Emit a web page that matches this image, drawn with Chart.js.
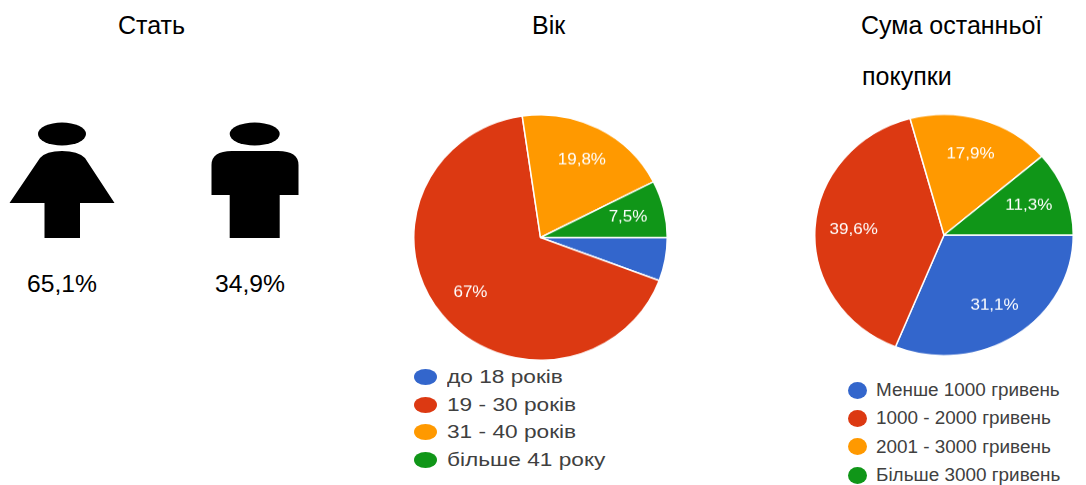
<!DOCTYPE html>
<html lang="uk">
<head>
<meta charset="utf-8">
<title>Портрет покупця</title>
<script src="https://cdn.jsdelivr.net/npm/chart.js@4"></script>
<style>
  html, body { margin: 0; padding: 0; background: #fff; }
  body { position: relative; width: 1086px; height: 485px; overflow: hidden; font-family: "Liberation Sans", Arial, sans-serif; color: #000; }
  .text { position: absolute; font-size: 25px; line-height: 28px; white-space: nowrap; }
  .pie { position: absolute; }
  .figures { position: absolute; left: 0; top: 0; }
  .legend-row { position: absolute; white-space: nowrap; color: #404040; transform-origin: left center; }
  .legend-dot { position: absolute; border-radius: 50%; }
</style>
</head>
<body>

<div class="text" style="left:118px;top:11px">Стать</div>
<div class="text" style="left:532px;top:11px">Вік</div>
<div class="text" style="left:861px;top:11px">Сума останньої</div>
<div class="text" style="left:862px;top:62px">покупки</div>

<svg class="figures" width="320" height="260">
  <ellipse cx="62" cy="134" rx="24" ry="11.5"/>
  <path d="M9.5 203 L40 158 Q46 151 62 151 Q78 151 85 158 L114.5 203 L80 203 L80 238 L44.5 238 L44.5 203 Z"/>
  <ellipse cx="254.7" cy="134" rx="25" ry="11.5"/>
  <path d="M211.5 195 L211.5 165 Q211.5 151 232 151 L278 151 Q298.5 151 298.5 165 L298.5 195 L279.7 195 L279.7 238 L229.7 238 L229.7 195 Z"/>
</svg>

<div class="text" id="gender-f" style="left:27px;top:270px;font-size:24.7px"></div>
<div class="text" id="gender-m" style="left:215px;top:270px;font-size:24.7px"></div>

<div class="pie" style="left:413px;top:110px;width:255px;height:255px;transform:scaleY(0.968)">
  <canvas id="age-chart"></canvas>
</div>
<div class="pie" style="left:814px;top:104.5px;width:260px;height:260px;transform:scaleY(0.934)">
  <canvas id="sum-chart"></canvas>
</div>

<div id="age-legend"></div>
<div id="sum-legend"></div>

<script>
'use strict';

const genderValues = [65.1, 34.9];

const ageLabels = ['до 18 років', '19 - 30 років', '31 - 40 років', 'більше 41 року'];
const ageValues = [5.7, 67, 19.8, 7.5];

const sumLabels = ['Менше 1000 гривень', '1000 - 2000 гривень', '2001 - 3000 гривень', 'Більше 3000 гривень'];
const sumValues = [31.1, 39.6, 17.9, 11.3];

const sliceColors = ['#3366cc', '#dc3912', '#ff9900', '#109618'];

const formatPercent = (value) => String(value).replace('.', ',') + '%';

document.querySelector('#gender-f').textContent = formatPercent(genderValues[0]);
document.querySelector('#gender-m').textContent = formatPercent(genderValues[1]);

// Percent text inside a slice, thin slices stay unlabelled
const sliceLabels = {
  id: 'sliceLabels',
  afterDatasetsDraw(chart, args, options) {
    const ctx = chart.ctx;
    const values = chart.data.datasets[0].data;
    ctx.save();
    ctx.fillStyle = '#fff';
    ctx.font = '17px "Liberation Sans", Arial, sans-serif';
    ctx.textAlign = 'center';
    ctx.textBaseline = 'middle';
    chart.getDatasetMeta(0).data.forEach((arc, i) => {
      if (values[i] < 6) return;
      const mid = (arc.startAngle + arc.endAngle) / 2;
      const r = arc.outerRadius * options.radial;
      ctx.fillText(formatPercent(values[i]), arc.x + Math.cos(mid) * r, arc.y + Math.sin(mid) * r);
    });
    ctx.restore();
  }
};

const drawPie = (selector, labels, values, radial) => new Chart(document.querySelector(selector), {
  type: 'pie',
  data: {
    labels: labels,
    datasets: [{
      data: values,
      backgroundColor: sliceColors,
      borderColor: '#fff',
      borderWidth: 1.5
    }]
  },
  options: {
    responsive: true,
    maintainAspectRatio: false,
    animation: false,
    rotation: 90,
    plugins: {
      legend: { display: false },
      tooltip: { enabled: false },
      sliceLabels: { radial: radial }
    }
  },
  plugins: [sliceLabels]
});

drawPie('#age-chart', ageLabels, ageValues, 0.71);
drawPie('#sum-chart', sumLabels, sumValues, 0.7);

// Legends sit under the pies, one row per slice
const drawLegend = (selector, labels, opts) => {
  const box = document.querySelector(selector);
  labels.forEach((label, i) => {
    const y = opts.top + opts.step * i;
    const dot = document.createElement('div');
    dot.className = 'legend-dot';
    dot.style.cssText = `left:${opts.dotX}px;top:${y - opts.dotH / 2}px;width:${opts.dotW}px;height:${opts.dotH}px;background:${sliceColors[i]}`;
    const row = document.createElement('div');
    row.className = 'legend-row';
    row.textContent = label;
    row.style.cssText = `left:${opts.textX}px;top:${y - 12}px;line-height:24px;font-size:18px;transform:scaleX(${opts.stretch})`;
    box.append(dot, row);
  });
};

drawLegend('#age-legend', ageLabels, { top: 377, step: 27.7, dotX: 414, dotW: 23, dotH: 16, textX: 447, stretch: 1.26 });
drawLegend('#sum-legend', sumLabels, { top: 390, step: 28.4, dotX: 848, dotW: 19, dotH: 17, textX: 876, stretch: 1.05 });
</script>
</body>
</html>
